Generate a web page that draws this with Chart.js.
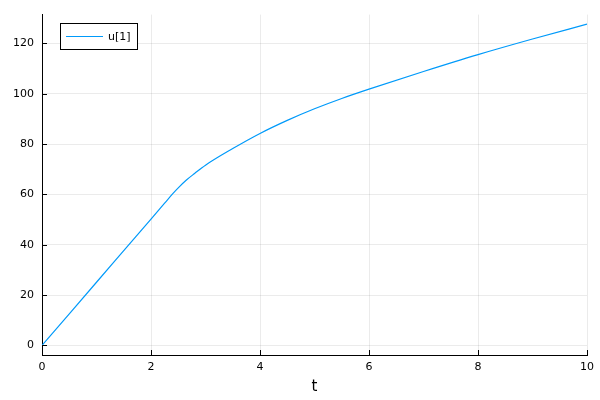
<!DOCTYPE html>
<html>
<head>
<meta charset="utf-8">
<script src="https://cdn.jsdelivr.net/npm/chart.js@4/dist/chart.umd.min.js"></script>
<style>
html,body{margin:0;padding:0;background:#fff;}
#wrap{width:600px;height:400px;}
</style>
</head>
<body>
<div id="wrap"><canvas id="c" width="600" height="400"></canvas></div>
<script>
const seriesLabel = "u[1]";
const tValues = [0, 1, 2, 2.25, 2.4, 2.5, 2.65, 2.8, 3, 3.5, 4, 4.5, 5, 5.5, 6, 7, 8, 9, 10];
const uValues = [0, 25.1, 50.2, 56.5, 60.3, 62.6, 65.7, 68.3, 71.6, 78.2, 84.2, 89.4, 94.0, 98.1, 101.8, 108.8, 115.5, 121.7, 127.6];
const xTicks = [0, 2, 4, 6, 8, 10];
const yTicks = [0, 20, 40, 60, 80, 100, 120];
const xTitle = "t";

const FONT = "'DejaVu Sans', sans-serif";
const LINE_COLOR = "#009AFA";

const innerTicks = {
  id: 'innerTicks',
  afterDatasetsDraw(chart) {
    const ctx = chart.ctx;
    const x = chart.scales.x, y = chart.scales.y;
    const a = chart.chartArea;
    ctx.save();
    ctx.strokeStyle = '#000';
    ctx.lineWidth = 1;
    ctx.beginPath();
    xTicks.forEach(v => {
      const px = Math.round(x.getPixelForValue(v)) + 0.5;
      ctx.moveTo(px, a.bottom);
      ctx.lineTo(px, a.bottom - 5);
    });
    yTicks.forEach(v => {
      const py = Math.round(y.getPixelForValue(v)) + 0.5;
      ctx.moveTo(a.left, py);
      ctx.lineTo(a.left + 5, py);
    });
    ctx.stroke();
    // legend box
    const lx = 60.5, ly = 23.5, lw = 77, lh = 26;
    ctx.fillStyle = '#fff';
    ctx.fillRect(lx, ly, lw, lh);
    ctx.strokeStyle = '#000';
    ctx.strokeRect(lx, ly, lw, lh);
    ctx.strokeStyle = LINE_COLOR;
    ctx.beginPath();
    ctx.moveTo(66, ly + lh / 2);
    ctx.lineTo(103, ly + lh / 2);
    ctx.stroke();
    ctx.fillStyle = '#000';
    ctx.font = "11px " + FONT;
    ctx.textBaseline = 'middle';
    ctx.textAlign = 'left';
    ctx.fillText(chart.data.datasets[0].label, 108, ly + lh / 2 + 0.5);
    ctx.restore();
  }
};

new Chart(document.getElementById('c'), {
  type: 'line',
  data: {
    datasets: [{
      label: seriesLabel,
      data: tValues.map((t, i) => ({x: t, y: uValues[i]})),
      borderColor: LINE_COLOR,
      borderWidth: 1.2,
      pointRadius: 0,
      fill: false,
      cubicInterpolationMode: 'monotone'
    }]
  },
  options: {
    responsive: false,
    animation: false,
    devicePixelRatio: 1,
    layout: { padding: { left: 0, top: 12, right: 12, bottom: 0 } },
    plugins: { legend: { display: false }, tooltip: { enabled: false } },
    scales: {
      x: {
        type: 'linear',
        min: 0, max: 10,
        afterBuildTicks(s) { s.ticks = xTicks.map(v => ({value: v})); },
        afterFit(s) { s.height = 45; },
        grid: { color: 'rgba(0,0,0,0.08)', lineWidth: 1, drawTicks: false },
        border: { display: true, color: '#000', width: 1 },
        ticks: { color: '#000', font: { family: FONT, size: 11 }, padding: 6, maxRotation: 0 },
        title: { display: true, text: xTitle, color: '#000', font: { family: FONT, size: 15 }, padding: { top: 0, bottom: 4 } }
      },
      y: {
        type: 'linear',
        min: -3.8, max: 131.4,
        afterBuildTicks(s) { s.ticks = yTicks.map(v => ({value: v})); },
        afterFit(s) { s.width = 42; },
        grid: { color: 'rgba(0,0,0,0.08)', lineWidth: 1, drawTicks: false },
        border: { display: true, color: '#000', width: 1 },
        ticks: { color: '#000', font: { family: FONT, size: 11 }, padding: 8 }
      }
    }
  },
  plugins: [innerTicks]
});
</script>
</body>
</html>
